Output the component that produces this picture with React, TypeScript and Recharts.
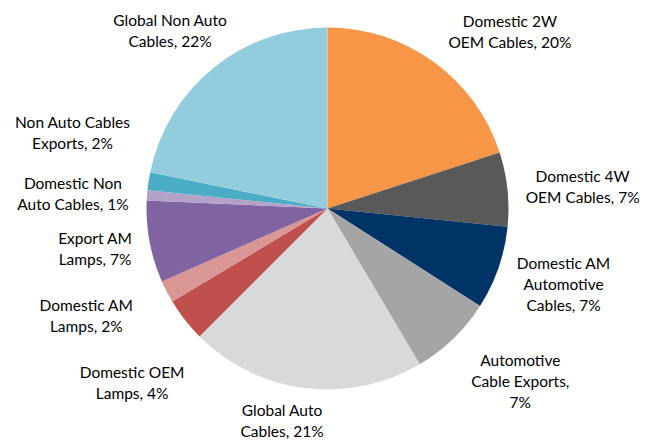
import React from 'react';
import { PieChart, Pie, Cell } from 'recharts';

// segment names, clockwise from 12 o'clock
const categories = [
  'Domestic 2W OEM Cables',
  'Domestic 4W OEM Cables',
  'Domestic AM Automotive Cables',
  'Automotive Cable Exports',
  'Global Auto Cables',
  'Domestic OEM Lamps',
  'Domestic AM Lamps',
  'Export AM Lamps',
  'Domestic Non Auto Cables',
  'Non Auto Cables Exports',
  'Global Non Auto Cables',
];

// share of revenue, %
const shares = [20.0, 6.6, 7.45, 7.45, 21.0, 3.9, 2.0, 7.3, 0.9, 1.6, 21.8];

// how each data label wraps; {p} is the rounded percentage
const labelLines = [
  ['Domestic 2W', 'OEM Cables, {p}'],
  ['Domestic 4W', 'OEM Cables, {p}'],
  ['Domestic AM', 'Automotive', 'Cables, {p}'],
  ['Automotive', 'Cable Exports,', '{p}'],
  ['Global Auto', 'Cables, {p}'],
  ['Domestic OEM', 'Lamps, {p}'],
  ['Domestic AM', 'Lamps, {p}'],
  ['Export AM', 'Lamps, {p}'],
  ['Domestic Non', 'Auto Cables, {p}'],
  ['Non Auto Cables', 'Exports, {p}'],
  ['Global Non Auto', 'Cables, {p}'],
];

const colors = [
  '#F79646', '#595959', '#003366', '#A5A5A5', '#D9D9D9', '#C0504D',
  '#D99694', '#8064A2', '#B3A2C7', '#4BACC6', '#93CDDD',
];

// label layout: angular nudge from slice middle (deg) and distance from centre (px)
const labelShift = [9.9, 1.4, -1.3, -4.1, 4.9, -3.8, 3.4, 0.7, -0.8, 7.9, -2.4];
const labelDist = [254, 256, 248, 259, 217, 262, 264, 236, 255, 266, 237];

const FONT = 'Lato, "Open Sans", sans-serif';
const LINE_H = 21;

const data = categories.map((name, i) => ({ name, value: shares[i] }));

const renderLabel = (props: any) => {
  const { cx, cy, midAngle, percent, index } = props;
  const theta = 90 - midAngle + labelShift[index];
  const rad = (theta * Math.PI) / 180;
  const x = cx + labelDist[index] * Math.sin(rad);
  const y = cy - labelDist[index] * Math.cos(rad);
  const pct = `${Math.round(percent * 100)}%`;
  const lines = labelLines[index].map(l => l.replace('{p}', pct));
  const top = y - ((lines.length - 1) * LINE_H) / 2;
  return (
    <text
      key={`lbl-${index}`}
      x={x}
      y={top}
      textAnchor="middle"
      fill="#000"
      fontFamily={FONT}
      fontSize={15.5}
    >
      {lines.map((l, j) => (
        <tspan key={j} x={x} y={top + j * LINE_H} dy="0.35em">
          {l}
        </tspan>
      ))}
    </text>
  );
};

export default function App() {
  return (
    <div style={{ position: 'absolute', left: 0, top: 0, width: 654, height: 446, background: '#fff' }}>
      <PieChart width={654} height={446} margin={{ top: 0, right: 0, bottom: 0, left: 0 }}>
        <Pie
          data={data}
          dataKey="value"
          nameKey="name"
          cx={327.5}
          cy={208.5}
          outerRadius={181}
          startAngle={90}
          endAngle={-270}
          stroke="none"
          label={renderLabel}
          labelLine={false}
          isAnimationActive={false}
        >
          {data.map((d, i) => (
            <Cell key={d.name} fill={colors[i]} />
          ))}
        </Pie>
      </PieChart>
    </div>
  );
}
